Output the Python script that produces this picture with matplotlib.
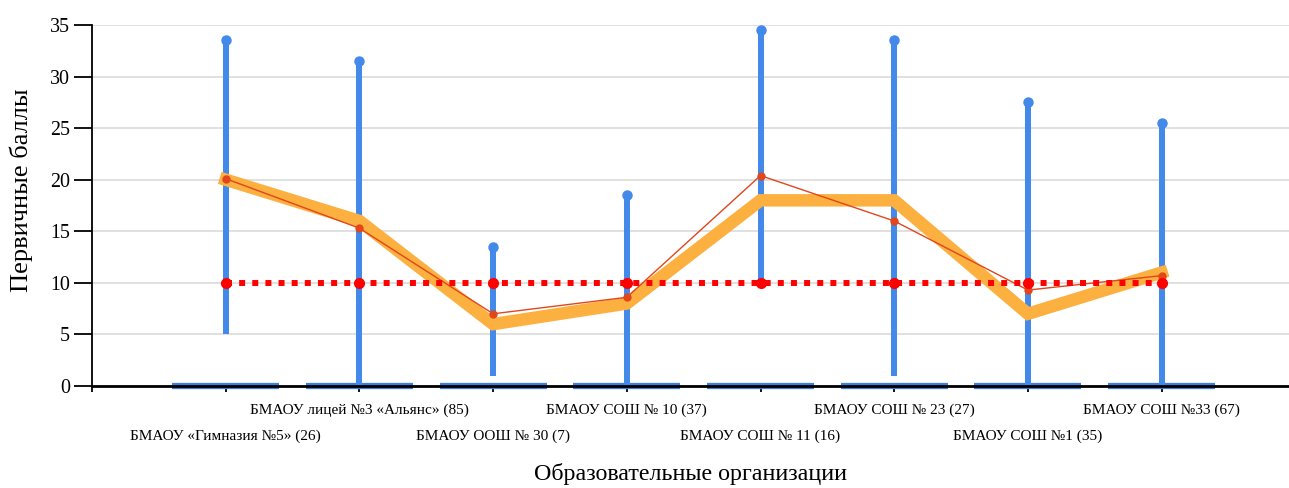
import matplotlib.pyplot as plt
import numpy as np

# Data
schools = ['БМАОУ «Гимназия №5» (26)', 'БМАОУ лицей №3 «Альянс» (85)',
           'БМАОУ ООШ № 30 (7)', 'БМАОУ СОШ № 10 (37)', 'БМАОУ СОШ № 11 (16)',
           'БМАОУ СОШ № 23 (27)', 'БМАОУ СОШ №1 (35)', 'БМАОУ СОШ №33 (67)']
score_min = [5, 0, 1, 0, 10, 1, 0, 0]
score_max = [33.5, 31.5, 13.5, 18.5, 34.5, 33.5, 27.5, 25.5]
median_score = [20, 16, 6, 8, 18, 18, 7, 11]
mean_score = [20.1, 15.3, 7.0, 8.6, 20.4, 16.0, 9.3, 10.7]
threshold = [10, 10, 10, 10, 10, 10, 10, 10]

plt.rcParams['font.family'] = ['Liberation Serif', 'DejaVu Serif']

x = np.arange(1, len(schools) + 1)

fig = plt.figure(figsize=(12.89, 4.88), dpi=100)
ax = fig.add_axes([0.0714, 0.209, 0.9286, 0.7398])

blue = '#4289ea'
orange = '#fbb040'
red_line = '#e2461c'

# Range bars (min..max)
ax.vlines(x, score_min, score_max, color=blue, lw=4.3, zorder=3)
ax.plot(x, score_max, 'o', color=blue, ms=6.5, zorder=3, clip_on=False)

# Base strips at zero
ax.hlines(np.zeros(len(x)), x - 0.4, x + 0.4, color='#3c7fdd', lw=4.5,
          zorder=2, clip_on=False)

# Median (thick orange)
ax.plot(x, median_score, color=orange, lw=9, solid_joinstyle='miter', zorder=4)

# Mean (thin red with dots)
ax.plot(x, mean_score, color=red_line, lw=1, marker='o', ms=5, zorder=5)

# Threshold dotted line
ax.plot(x, threshold, color='#ff0000', lw=4.3, linestyle=(0, (1, 1.2)),
        dash_capstyle='butt', marker='o', ms=7, zorder=6)

ax.set_xlim(0, 8.953)
ax.set_ylim(0, 35)
ax.set_yticks(np.arange(0, 36, 5))
ax.tick_params(axis='y', labelsize=14.4, length=13, width=1.3, pad=3)
ax.set_xticks(np.arange(0, 9))
ax.set_xticklabels([])
ax.tick_params(axis='x', length=4, width=1.3)
ax.grid(axis='y', color='#dddddd', lw=1.3, zorder=0)
ax.set_axisbelow(True)

for s in ['top', 'right']:
    ax.spines[s].set_visible(False)
ax.spines['left'].set_linewidth(1.3)
ax.spines['bottom'].set_linewidth(2.0)
ax.spines['bottom'].set_zorder(7)

# Staggered category labels
trans = ax.get_xaxis_transform()
for i, (xi, name) in enumerate(zip(x, schools)):
    yy = -0.066 if i % 2 == 1 else -0.14
    ax.text(xi, yy, name, transform=trans, ha='center', va='center', fontsize=11)

ax.set_xlabel('Образовательные организации', fontsize=17.3, labelpad=48)
ax.set_ylabel('Первичные баллы', fontsize=19)
ax.yaxis.set_label_coords(-0.049, 0.543)

plt.savefig('out.png', dpi=100)
